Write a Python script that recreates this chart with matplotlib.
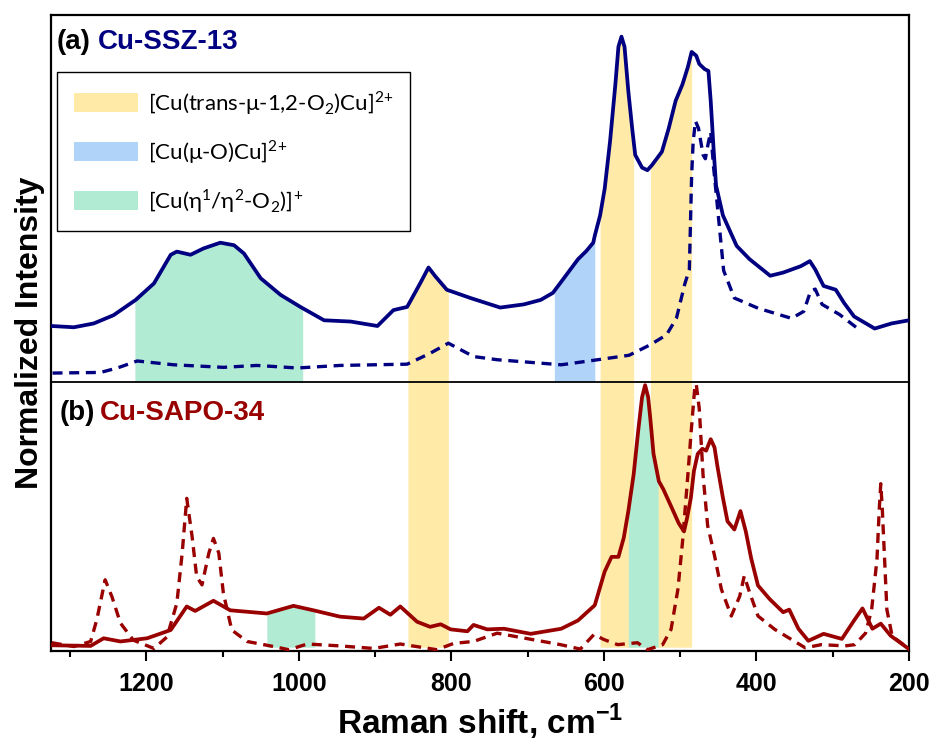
import numpy as np
import matplotlib
matplotlib.use('Agg')
import matplotlib.pyplot as plt
from matplotlib.patches import Patch

plt.rcParams['mathtext.fontset'] = 'custom'
plt.rcParams['mathtext.rm'] = 'Lato'
plt.rcParams['mathtext.bf'] = 'Liberation Sans:bold'

# ---------------- data ----------------
# y is in axes-height units: 0 = bottom of plot, 1 = top, panel divider at 0.423
DIVIDER = 0.423

ssz_solid_x = [1324, 1295, 1269, 1243, 1214, 1190, 1168, 1160, 1142, 1125, 1103, 1085, 1072, 1050, 1024,
               998, 967, 932, 897, 876, 858, 841, 830, 821, 806, 775, 736, 705, 683, 667, 652, 634, 623,
               614, 612, 605, 599, 592, 585, 581, 577, 573, 568, 563, 559, 550, 543, 537, 524, 515, 506,
               497, 490, 485, 479, 475, 468, 463, 460, 456, 453, 444, 426, 409, 382, 365, 342, 330, 323,
               312, 296, 285, 272, 245, 223, 200]
ssz_solid_y = [0.511, 0.509, 0.515, 0.528, 0.552, 0.578, 0.623, 0.628, 0.623, 0.633, 0.642, 0.638, 0.625,
               0.586, 0.560, 0.541, 0.520, 0.518, 0.511, 0.536, 0.541, 0.578, 0.603, 0.589, 0.568, 0.555,
               0.540, 0.545, 0.552, 0.563, 0.587, 0.616, 0.629, 0.642, 0.653, 0.685, 0.727, 0.801, 0.891,
               0.950, 0.966, 0.950, 0.880, 0.822, 0.780, 0.760, 0.756, 0.764, 0.785, 0.822, 0.865, 0.891,
               0.918, 0.942, 0.936, 0.923, 0.915, 0.912, 0.865, 0.785, 0.732, 0.685, 0.637, 0.616, 0.590,
               0.595, 0.605, 0.613, 0.600, 0.574, 0.568, 0.547, 0.526, 0.507, 0.515, 0.520]

ssz_dash_x = [1323, 1260, 1238, 1212, 1164, 1099, 1055, 1002, 946, 858, 828, 804, 771, 740, 656, 602, 567,
              540, 518, 505, 494, 488, 485, 483, 480, 476, 473, 470, 467, 463, 460, 456, 449, 443, 429,
              398, 354, 338, 329, 323, 314, 291, 265]
ssz_dash_y = [0.437, 0.438, 0.445, 0.456, 0.450, 0.446, 0.449, 0.445, 0.449, 0.451, 0.468, 0.484, 0.463,
              0.458, 0.450, 0.459, 0.465, 0.481, 0.497, 0.523, 0.577, 0.600, 0.748, 0.801, 0.833, 0.822,
              0.801, 0.780, 0.774, 0.800, 0.816, 0.758, 0.672, 0.598, 0.555, 0.539, 0.523, 0.534, 0.566,
              0.569, 0.545, 0.529, 0.505]

sapo_solid_x = [1324, 1273, 1256, 1234, 1199, 1168, 1147, 1136, 1112, 1090, 1042, 1007, 981, 946, 915, 895,
                880, 867, 845, 828, 814, 801, 779, 771, 753, 731, 696, 656, 634, 612, 599, 590, 581, 574,
                568, 561, 555, 550, 546, 542, 539, 535, 528, 522, 511, 502, 495, 491, 486, 482, 477, 471,
                466, 460, 455, 451, 444, 438, 429, 421, 414, 407, 398, 383, 365, 357, 345, 332, 312, 288,
                272, 261, 248, 237, 224, 200]
sapo_solid_y = [0.009, 0.008, 0.020, 0.015, 0.020, 0.033, 0.070, 0.063, 0.079, 0.064, 0.059, 0.071, 0.064,
                0.054, 0.051, 0.068, 0.057, 0.070, 0.046, 0.038, 0.042, 0.034, 0.031, 0.041, 0.034, 0.035,
                0.027, 0.035, 0.048, 0.072, 0.125, 0.148, 0.148, 0.178, 0.220, 0.278, 0.347, 0.399, 0.418,
                0.399, 0.363, 0.310, 0.267, 0.254, 0.225, 0.201, 0.188, 0.209, 0.241, 0.283, 0.310, 0.318,
                0.315, 0.333, 0.320, 0.289, 0.241, 0.204, 0.191, 0.220, 0.188, 0.146, 0.103, 0.082, 0.061,
                0.065, 0.035, 0.016, 0.027, 0.019, 0.048, 0.067, 0.035, 0.043, 0.024, 0.003]

sapo_dash_x = [1324, 1295, 1273, 1265, 1254, 1245, 1234, 1217, 1190, 1173, 1160, 1153, 1147, 1140, 1134,
               1127, 1118, 1112, 1105, 1099, 1088, 1068, 1033, 1013, 989, 946, 902, 867, 819, 797, 771, 740,
               657, 631, 613, 600, 582, 556, 543, 523, 512, 503, 497, 490, 486, 481, 479, 475, 470, 464,
               455, 446, 433, 422, 416, 409, 398, 376, 354, 336, 315, 284, 271, 257, 249, 242, 239, 237,
               235, 232, 229, 222, 198]
sapo_dash_y = [0.013, 0.007, 0.015, 0.049, 0.112, 0.085, 0.044, 0.017, 0.004, 0.022, 0.075, 0.154, 0.240,
               0.180, 0.117, 0.104, 0.154, 0.177, 0.154, 0.091, 0.033, 0.015, 0.007, 0.002, 0.011, 0.008,
               0.004, 0.011, 0.002, 0.012, 0.015, 0.028, 0.010, 0.003, 0.026, 0.018, 0.010, 0.013, 0.002,
               0.010, 0.034, 0.097, 0.171, 0.276, 0.339, 0.413, 0.420, 0.381, 0.276, 0.197, 0.150, 0.097,
               0.055, 0.086, 0.118, 0.092, 0.055, 0.034, 0.018, 0.005, 0.010, 0.008, 0.010, 0.028, 0.065,
               0.144, 0.223, 0.263, 0.223, 0.144, 0.065, 0.023, 0.002]

# assignment bands: (low, high, species)
top_bands = [(995, 1215, 'eta'), (804, 857, 'trans'), (612, 665, 'muO'), (561, 605, 'trans'), (485, 539, 'trans')]
bottom_bands = [(979, 1042, 'eta'), (529, 568, 'eta')]

legend_keys = ['trans', 'muO', 'eta']
labels = {'trans': r'[Cu(trans-μ-1,2-O$_2$)Cu]$^{2\!+}$',
          'muO': r'[Cu(μ-O)Cu]$^{2\!+}$',
          'eta': r'[Cu(η$^1$/η$^2$-O$_2$)]$^{\!+}$'}
colors = {'trans': '#FFEAA8', 'muO': '#B0D3FA', 'eta': '#B2EBD3'}

BLUE = '#000080'
RED = '#990000'

# ---------------- figure ----------------
fig = plt.figure(figsize=(9.34, 7.5), dpi=100)
ax = fig.add_axes([51 / 934, 1 - 651 / 750, 858 / 934, 636 / 750])


def fill_band(lo, hi, cx, cy, bottom, color):
    xs = np.linspace(lo, hi, 120)
    top = np.interp(xs, cx[::-1], cy[::-1])
    ax.fill_between(xs, bottom, top, color=color, lw=0, zorder=1)


sx = np.array(ssz_solid_x, float); sy = np.array(ssz_solid_y)
bx = np.array(sapo_solid_x, float); by = np.array(sapo_solid_y)

for lo, hi, sp in top_bands:
    base = DIVIDER if sp in ('eta', 'muO') else 0.006
    fill_band(lo, hi, sx, sy, base, colors[sp])
for lo, hi, sp in bottom_bands:
    fill_band(lo, hi, bx, by, 0.006, colors[sp])

ax.plot(ssz_solid_x, ssz_solid_y, color=BLUE, lw=2.7, zorder=3, solid_joinstyle='round')
ax.plot(ssz_dash_x, ssz_dash_y, color=BLUE, lw=2.4, ls=(0, (3, 2)), zorder=3)
ax.plot(sapo_solid_x, sapo_solid_y, color=RED, lw=2.7, zorder=3, solid_joinstyle='round')
ax.plot(sapo_dash_x, sapo_dash_y, color=RED, lw=2.4, ls=(0, (3, 2)), zorder=3)

ax.axhline(DIVIDER, color='black', lw=1.3, zorder=4)

ax.set_xlim(1325, 200)
ax.set_ylim(0, 1)
ax.set_xticks([1200, 1000, 800, 600, 400, 200])
ax.set_xticks(np.arange(1300, 199, -100), minor=True)
ax.set_yticks([])
ax.tick_params(axis='x', which='major', direction='out', length=7, width=1.5, pad=8,
               labelsize=18, top=False)
ax.tick_params(axis='x', which='minor', direction='out', length=4, width=1.5, top=False)
for lab in ax.get_xticklabels():
    lab.set_fontfamily('Liberation Sans')
    lab.set_fontweight('bold')
for sp in ax.spines.values():
    sp.set_linewidth(1.6)

ax.set_xlabel(r'Raman shift, cm$^{\mathbf{-1}}$', fontsize=24, fontweight='bold',
              family='Liberation Sans', labelpad=4)
ax.set_ylabel('Normalized Intensity', fontsize=23, fontweight='bold', family='Liberation Sans',
              labelpad=4)

# panel titles
ax.text(0.007, 0.958, '(a)', transform=ax.transAxes, fontsize=20, fontweight='bold',
        family='Liberation Sans', va='center', ha='left', color='black')
ax.text(0.055, 0.958, 'Cu-SSZ-13', transform=ax.transAxes, fontsize=20, fontweight='bold',
        family='Liberation Sans', va='center', ha='left', color=BLUE)
ax.text(0.010, 0.374, '(b)', transform=ax.transAxes, fontsize=20, fontweight='bold',
        family='Liberation Sans', va='center', ha='left', color='black')
ax.text(0.057, 0.374, 'Cu-SAPO-34', transform=ax.transAxes, fontsize=20, fontweight='bold',
        family='Liberation Sans', va='center', ha='left', color=RED)

handles = [Patch(facecolor=colors[k], edgecolor='none') for k in legend_keys]
leg = ax.legend(handles, [labels[k] for k in legend_keys],
                loc='upper left', bbox_to_anchor=(0.007, 0.91), frameon=True, fancybox=False,
                edgecolor='black', framealpha=1, handlelength=2.9, handleheight=0.9,
                labelspacing=0.95, borderpad=0.75, handletextpad=0.45, borderaxespad=0,
                prop={'family': ['Lato', 'DejaVu Sans'], 'size': 16})
leg.get_frame().set_linewidth(1.0)
leg.set_zorder(5)

fig.savefig('out.png', dpi=100)
